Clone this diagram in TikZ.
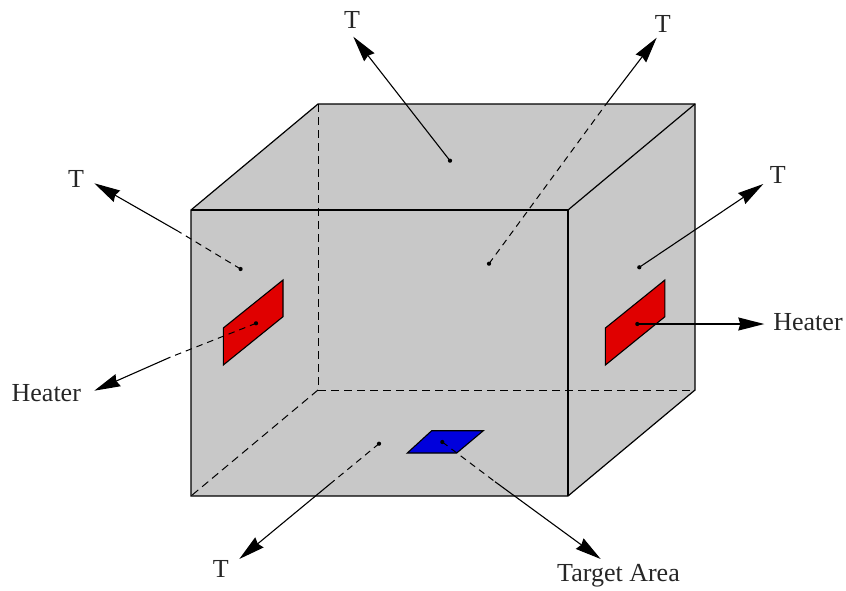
\documentclass[tikz,border=0pt]{standalone}
\usepackage{fontspec}
\setmainfont{Liberation Serif}
\usetikzlibrary{arrows.meta}
\definecolor{boxgray}{HTML}{C8C8C8}
\definecolor{heaterred}{HTML}{E00000}
\definecolor{targetblue}{HTML}{0000DC}
\tikzset{
  edge/.style={line width=1.2pt,line join=miter},
  hidden/.style={line width=1pt,dash pattern=on 8pt off 5pt},
  patch/.style={draw=black,line width=1.1pt},
  enddot/.style={circle,fill=black,inner sep=0pt,minimum size=4.2pt},
  lbl/.style={font=\fontsize{26}{28}\selectfont,anchor=base,inner sep=0pt,text=black!85},
  hiddenpart/.style={line width=1pt,dash pattern=on 6.5pt off 5pt},
  visiblepart/.style={line width=1.1pt,-{Stealth[length=26pt,width=13pt,inset=2pt]}},
}
\begin{document}
\begin{tikzpicture}[x=1pt,y=-1pt]
\useasboundingbox (0,0) rectangle (846,590);
% box corners
\coordinate (fTL) at (191,210);
\coordinate (fTR) at (568,210);
\coordinate (fBR) at (568,496);
\coordinate (fBL) at (191,496);
\coordinate (bTL) at (318,104);
\coordinate (bTR) at (695,104);
\coordinate (bBR) at (695,390);
\coordinate (bBL) at (318,390);
\fill[boxgray] (fTL) -- (bTL) -- (bTR) -- (bBR) -- (fBR) -- (fBL) -- cycle;
\draw[hidden] (bTL) -- (bBL);
\draw[hidden] (bBL) -- (bBR);
\draw[hidden] (bBL) -- (fBL);
\draw[edge] (fTL) -- (bTL) -- (bTR) -- (bBR) -- (fBR) -- (fBL) -- cycle;
\draw[edge] (fTL) -- (fTR) -- (fBR);
\draw[edge] (fTR) -- (bTR);
% patches
\draw[patch,fill=heaterred] (223.3,328) -- (283,280) -- (283,316.7) -- (223.3,365) -- cycle;
\draw[patch,fill=heaterred] (605.4,328) -- (664.9,280) -- (664.9,316.7) -- (605.4,365) -- cycle;
\draw[patch,fill=targetblue] (431.7,430.7) -- (483.3,430.7) -- (456.7,453) -- (407.3,453) -- cycle;
% labels
\node[lbl] (tL) at (76,187.7) {T};
\node[lbl] (hL) at (46.3,401.7) {Heater};
\node[lbl] (tTop) at (352,28) {T};
\node[lbl] (tCen) at (662.7,32.7) {T};
\node[lbl] (tR) at (777.7,183.3) {T};
\node[lbl] (hR) at (808,330) {Heater};
\node[lbl] (tBot) at (220.7,577.7) {T};
\node[lbl] (tgt) at (618.5,581.7) {Target Area};
% end dots
\node[enddot] (dL) at (240.6,269) {};
\node[enddot] (dHL) at (256,323.3) {};
\node[enddot] (dTop) at (450,160.7) {};
\node[enddot] (dCen) at (489,263.7) {};
\node[enddot] (dR) at (639.3,267.3) {};
\node[enddot] (dHR) at (637.3,324) {};
\node[enddot] (dBot) at (379,443.7) {};
\node[enddot] (dTgt) at (442.3,442) {};
% arrow tips and break points
\coordinate (aL) at (94.3,183.3);
\coordinate (aHL) at (94.3,390.7);
\coordinate (aTop) at (353.3,36.7);
\coordinate (aCen) at (656.7,37.7);
\coordinate (aR) at (763.3,184);
\coordinate (aHR) at (764.3,324);
\coordinate (aBot) at (239.3,559);
\coordinate (aTgt) at (600.7,559);
\coordinate (mL) at (177.7,231);
\coordinate (mHL) at (170,357.3);
\coordinate (mCen) at (606.7,103.3);
\coordinate (mBot) at (330,484);
\coordinate (mTgt) at (495,481.7);
% connectors
\draw[hiddenpart] (dL.center) -- (mL);
\draw[visiblepart] (mL) -- (aL);
\draw[hiddenpart] (dHL.center) -- (mHL);
\draw[visiblepart] (mHL) -- (aHL);
\draw[visiblepart] (dTop.center) -- (aTop);
\draw[hiddenpart] (dCen.center) -- (mCen);
\draw[visiblepart] (mCen) -- (aCen);
\draw[visiblepart] (dR.center) -- (aR);
\draw[visiblepart,line width=1.4pt] (dHR.center) -- (aHR);
\draw[hiddenpart] (dBot.center) -- (mBot);
\draw[visiblepart] (mBot) -- (aBot);
\draw[hiddenpart] (dTgt.center) -- (mTgt);
\draw[visiblepart] (mTgt) -- (aTgt);
\end{tikzpicture}
\end{document}
